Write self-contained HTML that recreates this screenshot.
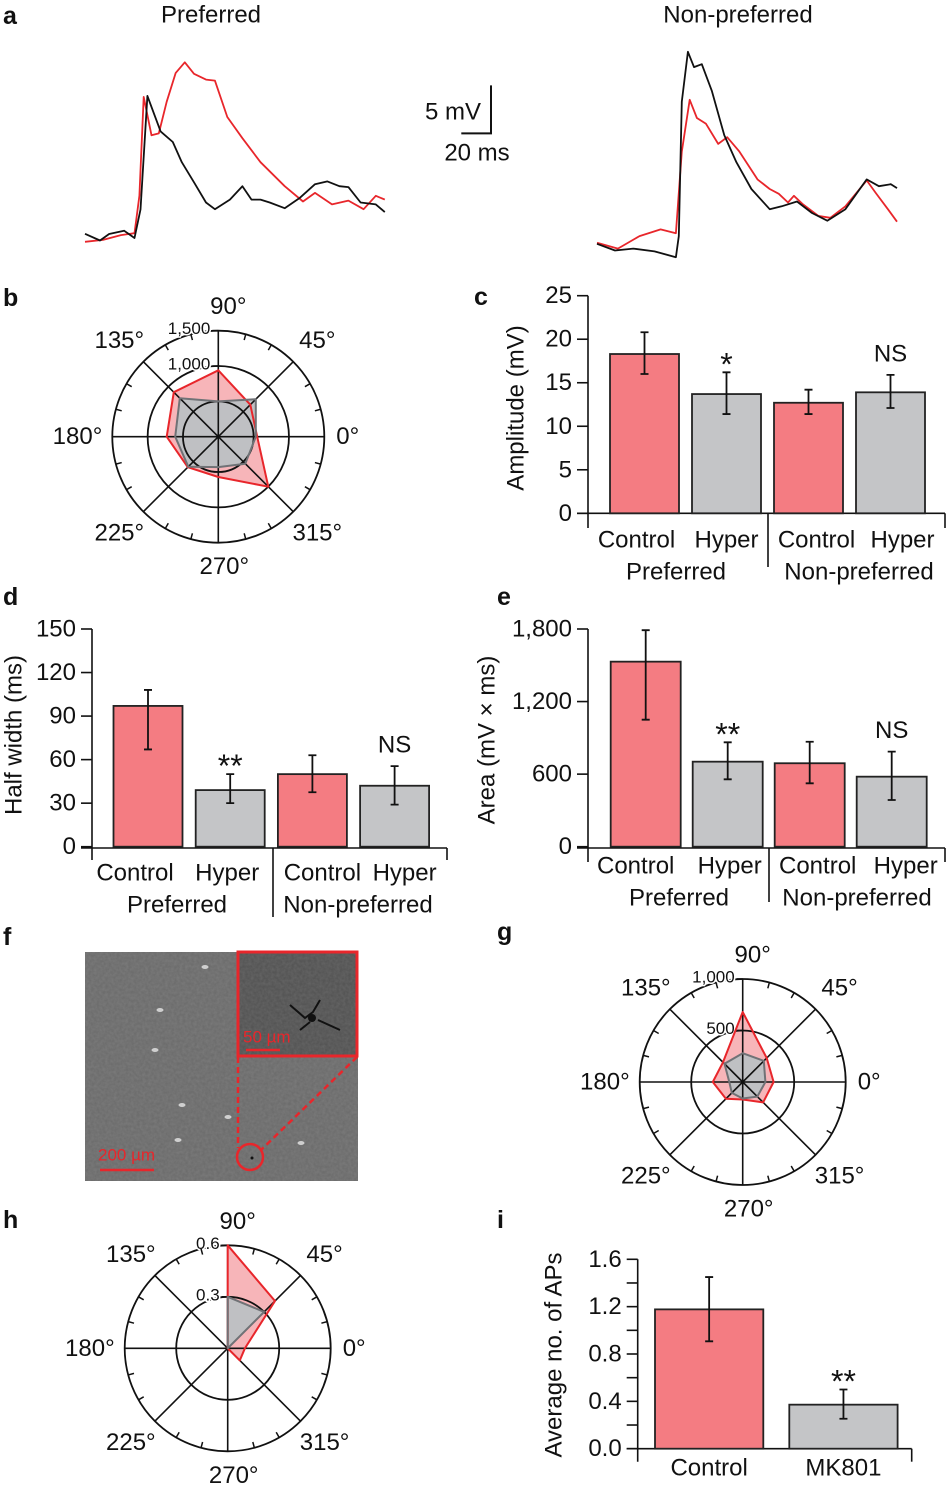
<!DOCTYPE html>
<html><head><meta charset="utf-8">
<style>
html,body{margin:0;padding:0;background:#fff;}
svg{display:block;font-family:"Liberation Sans",sans-serif;}
</style></head>
<body>
<svg id="fig" width="946" height="1490" viewBox="0 0 946 1490" xmlns="http://www.w3.org/2000/svg"></svg>
<script>
// ---------- Panel a data (time ms, voltage mV) ----------
const prefBlackT = [0,10.1,16.2,26.3,33.3,37.4,42.0,46.8,50.9,59.1,65.2,73.4,81.5,87.5,97.6,106.0,112.1,118.2,124.4,134.5,144.8,154.9,163.2,171.3,177.4,185.6,195.8,201.9];
const prefBlackV = [0.44,-0.26,0.42,0.76,0,2.97,14.8,12.8,11.1,10.0,7.9,5.8,3.7,3.0,4.0,5.4,4.0,4.0,3.7,3.1,4.2,5.6,5.9,5.4,5.3,3.7,3.5,2.7];
const prefRedT = [0,12.1,24.2,33.3,36.6,39.5,44.8,49.7,55.0,61.1,67.2,73.4,81.5,87.5,95.8,106.0,118.2,134.5,146.8,154.9,166.3,177.4,187.6,195.8,201.9];
const prefRedV = [-0.4,-0.2,0.3,0.5,4.4,14.7,10.7,10.9,14.2,17.2,18.3,17.1,16.5,16.4,12.6,10.4,7.9,5.4,3.8,4.7,3.5,3.9,3.0,4.4,4.0];
const nonBlackT = [0,12.1,24.4,38.7,53.1,55.1,57.1,61.2,65.3,70.6,77.4,85.7,93.9,104.0,116.3,124.4,134.7,144.8,155.1,167.3,181.6,189.8,197.9,202.0];
const nonBlackV = [-0.6,-1.3,-1.1,-1.4,-2.0,0.2,14.2,19.4,17.8,18.1,15.3,10.7,7.9,5.1,3.0,3.3,3.8,2.6,1.8,3.0,6.1,5.4,5.6,5.2];
const nonRedT = [0,14.1,28.6,42.8,53.1,57.1,62.4,67.3,73.4,81.6,87.7,95.9,108.1,116.3,122.4,128.6,132.6,138.7,149.0,157.1,167.3,181.6,187.7,195.9,202.0];
const nonRedV = [-0.5,-1.1,0.2,0.9,0.5,9.0,14.4,12.5,11.9,9.8,10.5,9.0,6.1,5.1,4.6,3.7,4.4,3.5,2.3,2.1,3.3,6.0,4.7,3.0,1.7];

// ---------- Bar chart data ----------
const barCategories = ["Control","Hyper","Control","Hyper"];
const barGroups = ["Preferred","Non-preferred"];
const ampValues = [18.3,13.7,12.7,13.9];
const ampErrLow = [16.0,11.4,11.4,12.1];
const ampErrHigh = [20.8,16.2,14.2,15.9];
const ampTicks = [0,5,10,15,20,25];
const ampTickLabels = ["0","5","10","15","20","25"];
const ampSig = ["","*","","NS"];

const hwValues = [97,39,50,42];
const hwErrLow = [67,30,37.5,29];
const hwErrHigh = [108,50,63,55.5];
const hwTicks = [0,30,60,90,120,150];
const hwTickLabels = ["0","30","60","90","120","150"];
const hwSig = ["","**","","NS"];

const areaValues = [1530,703,690,579];
const areaErrLow = [1050,557,524,386];
const areaErrHigh = [1790,863,868,786];
const areaTicks = [0,600,1200,1800];
const areaTickLabels = ["0","600","1,200","1,800"];
const areaSig = ["","**","","NS"];

const apCategories = ["Control","MK801"];
const apValues = [1.177,0.372];
const apErrLow = [0.907,0.253];
const apErrHigh = [1.45,0.50];
const apTicks = [0,0.2,0.4,0.6,0.8,1.0,1.2,1.4,1.6];
const apTickLabels = ["0.0","","0.4","","0.8","","1.2","","1.6"];
const apSig = ["","**"];

// ---------- Polar data (angles 0,45,...,315) ----------
const polarAngles = [0,45,90,135,180,225,270,315];
const polarAngleLabels = ["0°","45°","90°","135°","180°","225°","270°","315°"];
const bRed = [550,640,940,890,730,610,570,1000];
const bGray = [530,750,500,770,610,600,430,540];
const bRings = [500,1000,1500];
const bRingLabels = ["","1,000","1,500"];
const gRed = [300,330,680,270,290,230,170,280];
const gGray = [220,290,280,250,130,150,160,200];
const gRings = [500,1000];
const gRingLabels = ["500","1,000"];
const hRed = [0.1,0.39,0.6,0,0,0,0,0.1];
const hGray = [0,0.3,0.3,0,0,0,0,0];
const hRings = [0.3,0.6];
const hRingLabels = ["0.3","0.6"];

const NS = "http://www.w3.org/2000/svg";
const svg = document.getElementById("fig");
function mk(tag, attrs, parent) {
  const e = document.createElementNS(NS, tag);
  for (const k in attrs) e.setAttribute(k, attrs[k]);
  (parent || svg).appendChild(e);
  return e;
}
function txt(s, x, y, size, anchor, parent, extra) {
  const t = mk("text", Object.assign({x:x, y:y, "font-size":size, "text-anchor":anchor||"middle", "dominant-baseline":"central", fill:"#111"}, extra||{}), parent);
  t.textContent = s;
  return t;
}
const RED_BAR = "#f47c82", GRAY_BAR = "#c4c5c7";

// ---------- Panel letters ----------
const letters = [["a",3,16],["b",3,298],["c",474,297],["d",3,597],["e",497,597],["f",3,937],["g",497,932],["h",3,1220],["i",497,1220]];
letters.forEach(l => {
  const t = txt(l[0], l[1], l[2], 25, "start", svg, {"font-weight":"bold"});
  
  
});

// ---------- Panel a ----------
const gA = mk("g", {});


const PXMS = 1.485, PXMV = 9.6, BASEY = 238;
function tracePath(x0, T, V, color, name) {
  let d = "";
  for (let i = 0; i < T.length; i++) {
    const x = x0 + T[i] * PXMS, y = BASEY - V[i] * PXMV;
    d += (i ? "L" : "M") + x.toFixed(1) + "," + y.toFixed(1);
  }
  const p = mk("path", {d:d, fill:"none", stroke:color, "stroke-width":1.8, "stroke-linejoin":"round"}, gA);
  
  
}
tracePath(85, prefRedT, prefRedV, "#e8262b", "preferred-hyper-trace");
tracePath(85, prefBlackT, prefBlackV, "#111", "preferred-control-trace");
tracePath(597, nonRedT, nonRedV, "#e8262b", "nonpreferred-hyper-trace");
tracePath(597, nonBlackT, nonBlackV, "#111", "nonpreferred-control-trace");
let t1 = txt("Preferred", 211, 15, 24, "middle", gA);


let t2 = txt("Non-preferred", 738, 15, 24, "middle", gA);


const sb = mk("path", {d:"M491," + (133.4 - 5*PXMV).toFixed(1) + "V133.4H" + (491 - 20*PXMS).toFixed(1), fill:"none", stroke:"#111", "stroke-width":2}, gA);


let t3 = txt("5 mV", 481, 112, 24, "end", gA);


let t4 = txt("20 ms", 477, 153, 24, "middle", gA);



// ---------- Bar charts ----------
function barChart(cfg) {
  const g = mk("g", {});
  
  
  const yOf = v => cfg.y0 - (v / cfg.vmax) * (cfg.y0 - cfg.ytop);
  mk("line", {x1:cfg.ax, y1:cfg.ytop, x2:cfg.ax, y2:cfg.axBottom, stroke:"#111", "stroke-width":1.6}, g);
  cfg.ticks.forEach((v, i) => {
    const y = yOf(v);
    mk("line", {x1:cfg.ax - 11, y1:y, x2:cfg.ax, y2:y, stroke:"#111", "stroke-width":1.6}, g);
    if (cfg.tickLabels[i]) {
      const t = txt(cfg.tickLabels[i], cfg.ax - 16, y, 24, "end", g);
      
      
    }
  });
  mk("line", {x1:cfg.ax - 11, y1:cfg.xAxisY, x2:cfg.xEnd, y2:cfg.xAxisY, stroke:"#111", "stroke-width":1.6}, g);
  mk("line", {x1:cfg.xEnd, y1:cfg.xAxisY, x2:cfg.xEnd, y2:cfg.axBottom, stroke:"#111", "stroke-width":1.6}, g);
  if (cfg.divider) mk("line", {x1:cfg.divider, y1:cfg.xAxisY, x2:cfg.divider, y2:cfg.divBottom, stroke:"#111", "stroke-width":1.6}, g);
  cfg.values.forEach((v, i) => {
    const x = cfg.bar0 + i * cfg.pitch, w = cfg.bw;
    const y = yOf(v);
    const r = mk("rect", {x:x, y:y, width:w, height:cfg.y0 - y, fill:(i % 2 === 0 ? RED_BAR : GRAY_BAR), stroke:"#222", "stroke-width":1.8}, g);
    
    
    const cx = x + w / 2, yl = yOf(cfg.errLow[i]), yh = yOf(cfg.errHigh[i]);
    const eb = mk("path", {d:`M${cx},${yl}V${yh}M${cx-4},${yl}H${cx+4}M${cx-4},${yh}H${cx+4}`, stroke:"#111", "stroke-width":1.8, fill:"none"}, g);
    
    
    if (cfg.sig[i]) {
      const isNS = cfg.sig[i] === "NS";
      const s = txt(cfg.sig[i], cx, isNS ? yh - 21 : yh - 8, isNS ? 24 : 32, "middle", g);
      
      
    }
    const c = txt(cfg.cats[i], cx + (cfg.catShift ? cfg.catShift[i] : 0), cfg.catY, 24, "middle", g);
    
    
  });
  (cfg.groups || []).forEach((gl, i) => {
    const t = txt(gl, cfg.groupX[i], cfg.groupY, 24, "middle", g);
    
    
  });
  const yl = txt(cfg.ylabel, 0, 0, 24, "middle", g, {transform:`translate(${cfg.ylx},${cfg.yly}) rotate(-90)`});
  
  
}
barChart({name:"panel-c-amplitude", ax:588, y0:513.3, ytop:295.7, vmax:25, axBottom:528, xAxisY:513.3, xEnd:945, divider:768, divBottom:567,
  ticks:ampTicks, tickLabels:ampTickLabels, values:ampValues, errLow:ampErrLow, errHigh:ampErrHigh, sig:ampSig,
  bar0:610, pitch:82, bw:69, cats:barCategories, catShift:[-8,0,8,12], catY:540, groups:barGroups, groupX:[676,859], groupY:572,
  ylabel:"Amplitude (mV)", ylx:516, yly:408});
barChart({name:"panel-d-half-width", ax:92, y0:846.7, ytop:629, vmax:150, axBottom:860, xAxisY:848, xEnd:447, divider:273, divBottom:917,
  ticks:hwTicks, tickLabels:hwTickLabels, values:hwValues, errLow:hwErrLow, errHigh:hwErrHigh, sig:hwSig,
  bar0:113.5, pitch:82.2, bw:69, cats:barCategories, catShift:[-13,-3,10,10], catY:873, groups:barGroups, groupX:[177,358], groupY:905,
  ylabel:"Half width (ms)", ylx:14, yly:735});
barChart({name:"panel-e-area", ax:588, y0:846.7, ytop:629, vmax:1800, axBottom:862, xAxisY:848, xEnd:945, divider:769, divBottom:902,
  ticks:areaTicks, tickLabels:areaTickLabels, values:areaValues, errLow:areaErrLow, errHigh:areaErrHigh, sig:areaSig,
  bar0:610.7, pitch:82, bw:70, cats:barCategories, catShift:[-10,2,8,14], catY:866, groups:barGroups, groupX:[679,857], groupY:898,
  ylabel:"Area (mV × ms)", ylx:487, yly:740});
barChart({name:"panel-i-ap-count", ax:637.7, y0:1448.7, ytop:1259.3, vmax:1.6, axBottom:1461.7, xAxisY:1448.7, xEnd:911.7,
  ticks:apTicks, tickLabels:apTickLabels, values:apValues, errLow:apErrLow, errHigh:apErrHigh, sig:apSig,
  bar0:655, pitch:134.3, bw:108.3, cats:apCategories, catY:1468,
  ylabel:"Average no. of APs", ylx:554, yly:1355});

// ---------- Polar plots ----------
function polar(cfg) {
  const g = mk("g", {});
  
  
  const k = cfg.R / cfg.max;
  const pt = (a, v) => [cfg.cx + Math.cos(a * Math.PI / 180) * v * k, cfg.cy - Math.sin(a * Math.PI / 180) * v * k];
  const poly = vals => polarAngles.map((a, i) => pt(a, vals[i]).map(n => n.toFixed(1)).join(",")).join(" ");
  const rf = mk("polygon", {points:poly(cfg.red), fill:"rgba(238,90,100,0.45)", stroke:"none"}, g);
  
  
  const gf = mk("polygon", {points:poly(cfg.gray), fill:"#bfc0c3", stroke:"none"}, g);
  
  
  cfg.rings.forEach((rv, i) => {
    mk("circle", {cx:cfg.cx, cy:cfg.cy, r:rv * k, fill:"none", stroke:"#111", "stroke-width":1.8}, g);
    mk("line", {x1:cfg.cx - 6, y1:cfg.cy - rv * k, x2:cfg.cx, y2:cfg.cy - rv * k, stroke:"#111", "stroke-width":1.6}, g);
    if (cfg.ringLabels[i]) {
      const t = txt(cfg.ringLabels[i], cfg.cx - 8, cfg.cy - rv * k - 2, 17, "end", g, {stroke:"#fff", "stroke-width":3, "paint-order":"stroke"});
      
      
    }
  });
  polarAngles.forEach(a => {
    const p = pt(a, cfg.max);
    mk("line", {x1:cfg.cx, y1:cfg.cy, x2:p[0], y2:p[1], stroke:"#111", "stroke-width":1.6}, g);
  });
  for (let a = 15; a < 360; a += 15) {
    if (a % 45 === 0) continue;
    const c = Math.cos(a * Math.PI / 180), s = Math.sin(a * Math.PI / 180);
    mk("line", {x1:cfg.cx + c * (cfg.R - 6), y1:cfg.cy - s * (cfg.R - 6), x2:cfg.cx + c * cfg.R, y2:cfg.cy - s * cfg.R, stroke:"#111", "stroke-width":1.5}, g);
  }
  const rs = mk("polygon", {points:poly(cfg.red), fill:"none", stroke:"#e8262b", "stroke-width":2, "stroke-linejoin":"round"}, g);
  
  
  const gs = mk("polygon", {points:poly(cfg.gray), fill:"none", stroke:"#707276", "stroke-width":2, "stroke-linejoin":"round"}, g);
  
  
  polarAngles.forEach((a, i) => {
    const c = Math.cos(a * Math.PI / 180), s = Math.sin(a * Math.PI / 180);
    let x, y, anc = "middle";
    if (a === 0) { x = cfg.cx + cfg.R + 12; y = cfg.cy; anc = "start"; }
    else if (a === 180) { x = cfg.cx - cfg.R - 10; y = cfg.cy; anc = "end"; }
    else if (a === 90) { x = cfg.cx + 10; y = cfg.cy - cfg.R - 24; }
    else if (a === 270) { x = cfg.cx + 6; y = cfg.cy + cfg.R + 24; }
    else { x = cfg.cx + c * (cfg.R + 34); y = cfg.cy - s * (cfg.R + 30); }
    const t = txt(polarAngleLabels[i], x, y, 24, anc, g);
    
    
  });
}
polar({name:"panel-b-polar", cx:218.3, cy:436.7, R:106, max:1500, rings:bRings, ringLabels:bRingLabels, red:bRed, gray:bGray});
polar({name:"panel-g-polar", cx:742.7, cy:1082, R:103, max:1000, rings:gRings, ringLabels:gRingLabels, red:gRed, gray:gGray});
polar({name:"panel-h-polar", cx:227.7, cy:1348.3, R:103, max:0.6, rings:hRings, ringLabels:hRingLabels, red:hRed, gray:hGray});

// ---------- Panel f micrograph ----------
const gF = mk("g", {});


const defs = mk("defs", {}, gF);
const flt = mk("filter", {id:"noise", x:"0", y:"0", width:"100%", height:"100%"}, defs);
mk("feTurbulence", {type:"fractalNoise", baseFrequency:"0.35", numOctaves:"2", seed:"3", result:"n"}, flt);
mk("feColorMatrix", {type:"matrix", values:"0 0 0 0 1  0 0 0 0 1  0 0 0 0 1  0 0 0 0.5 -0.1"}, flt);
mk("rect", {x:85, y:952, width:273, height:229, fill:"#6d6d6d"}, gF);
mk("rect", {x:85, y:952, width:273, height:229, fill:"#fff", filter:"url(#noise)", opacity:0.25}, gF);
[[160,1010],[155,1050],[205,967],[182,1105],[228,1117],[178,1140],[301,1143]].forEach(p => {
  mk("ellipse", {cx:p[0], cy:p[1], rx:3.5, ry:2, fill:"#cfcfcf"}, gF);
});
mk("rect", {x:238, y:952, width:119, height:104, fill:"#555"}, gF);
mk("rect", {x:238, y:952, width:119, height:104, fill:"#fff", filter:"url(#noise)", opacity:0.25}, gF);
mk("path", {d:"M290,1005 L305,1018 L313,1012 L320,1000 M310,1022 L300,1030 M318,1020 L340,1030", stroke:"#111", "stroke-width":2, fill:"none"}, gF);
mk("circle", {cx:312, cy:1018, r:4, fill:"#111"}, gF);
const box = mk("rect", {x:238, y:952, width:119, height:104, fill:"none", stroke:"#e8262b", "stroke-width":3}, gF);


mk("path", {d:"M238,1057 V1148 M357,1057 L261,1150", stroke:"#e8262b", "stroke-width":2.5, "stroke-dasharray":"6 4", fill:"none"}, gF);
const circ = mk("circle", {cx:250, cy:1157, r:13, fill:"none", stroke:"#e8262b", "stroke-width":2.5}, gF);


mk("circle", {cx:252, cy:1158, r:1.5, fill:"#111"}, gF);
mk("line", {x1:100, y1:1170, x2:154, y2:1170, stroke:"#e8262b", "stroke-width":2.5}, gF);
const s200 = txt("200 µm", 98, 1155, 17, "start", gF, {fill:"#e8262b"});


mk("line", {x1:246, y1:1050, x2:280, y2:1050, stroke:"#e8262b", "stroke-width":2.5}, gF);
const s50 = txt("50 µm", 243, 1037, 17, "start", gF, {fill:"#e8262b"});


</script>
</body></html>
